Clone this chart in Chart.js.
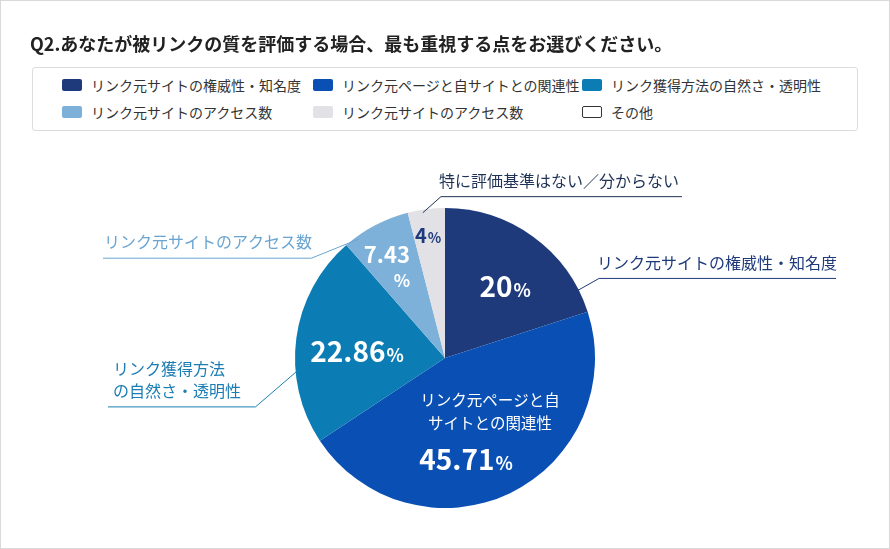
<!DOCTYPE html>
<html lang="ja">
<head>
<meta charset="utf-8">
<script src="https://cdn.jsdelivr.net/npm/chart.js@4"></script>
<style>
  html, body { margin: 0; padding: 0; background: #fff; }
  body { width: 890px; height: 549px; position: relative; overflow: hidden;
         font-family: "Noto Sans CJK JP", "Noto Sans", sans-serif; }
  #frame { position: absolute; left: 0; top: 0; width: 888px; height: 547px; border: 1px solid #d9d9d9; }
  #title { position: absolute; left: 30px; top: 30px; font-size: 18px; font-weight: bold; color: #222; white-space: nowrap; }
  #legend { position: absolute; left: 32px; top: 67px; width: 824px; height: 62px;
            border: 1px solid #dcdcdc; border-radius: 3px; background: #fff; }
  .item { position: absolute; font-size: 14px; color: #333; white-space: nowrap; line-height: 16px; }
  .sw { position: absolute; left: -29px; top: 2px; width: 20px; height: 12px; border-radius: 2px; box-sizing: border-box; }
  #chart { position: absolute; left: 0; top: 0; }
</style>
</head>
<body>
<div id="frame"></div>
<canvas id="chart" width="890" height="549"></canvas>
<div id="title">Q2.あなたが被リンクの質を評価する場合、最も重視する点をお選びください。</div>
<div id="legend"></div>
<script>
// Data
const legendLabels = [
    'リンク元サイトの権威性・知名度',
    'リンク元ページと自サイトとの関連性',
    'リンク獲得方法の自然さ・透明性',
    'リンク元サイトのアクセス数',
    'リンク元サイトのアクセス数',
    'その他',
];
const shares = [20, 45.71, 22.86, 7.43, 4, 0];
const valueLabels = ['20', '45.71', '22.86', '7.43', '4', ''];
const calloutLabels = [
    ['リンク元サイトの権威性・知名度'],
    [],
    ['リンク獲得方法', 'の自然さ・透明性'],
    ['リンク元サイトのアクセス数'],
    ['特に評価基準はない／分からない'],
    [],
];
const innerLabels = [[], ['リンク元ページと自', 'サイトとの関連性'], [], [], [], []];

// Style
const colors = ['#1f3a7b', '#0a50b4', '#0b7cb4', '#7db1d9', '#e1e1e6', '#ffffff'];
const font = '"Noto Sans CJK JP", "Noto Sans", sans-serif';

// Build legend
const legendEl = document.getElementById('legend');
const colX = [58, 309, 578];
const rowY = [9, 36];
legendLabels.forEach((label, i) => {
    const item = document.createElement('div');
    item.className = 'item';
    item.style.left = colX[i % 3] + 'px';
    item.style.top = rowY[Math.floor(i / 3)] + 'px';
    const sw = document.createElement('span');
    sw.className = 'sw';
    sw.style.background = colors[i];
    if (i === 5) sw.style.border = '1.5px solid #333';
    item.appendChild(sw);
    item.appendChild(document.createTextNode(label));
    legendEl.appendChild(item);
});

// Where labels go, relative to each slice (fraction of angle, fraction of radius)
const valuePlace = [
    { frac: 0.56, r: 0.62, size: 28, pct: 18, color: '#fff' },
    { frac: 0.445, r: 0.527, size: 28, pct: 18, color: '#fff', dx: -24, dy: 37 },
    { frac: 0.454, r: 0.588, size: 28, pct: 18, color: '#fff' },
    { frac: 0.44, r: 0.79, size: 22, pct: 17, color: '#fff', stack: true },
    { frac: 0.45, r: 0.82, size: 20, pct: 14, color: '#1f3a7b' },
    null,
];
const callouts = [
    { frac: 0.876, ex: 23, ey: -13, endX: 836, color: '#1f3a7b', lineColor: '#1f3a7b' },
    null,
    { frac: 0.35, ex: -43, ey: 37, endX: 108, color: '#1b7db3', lineColor: '#1b7db3' },
    { frac: 0.19, ex: -47, ey: 19, endX: 103, color: '#6aa5d2', lineColor: '#6aa5d2' },
    { frac: 0.40, ex: 18, ey: -16, endX: 682, color: '#1f3356', lineColor: '#1f3356' },
    null,
];

function drawValue(ctx, x, y, num, p) {
    ctx.save();
    ctx.fillStyle = p.color;
    ctx.textBaseline = 'alphabetic';
    ctx.textAlign = 'left';
    ctx.font = 'bold ' + p.size + 'px ' + font;
    const w1 = ctx.measureText(num).width;
    ctx.font = 'bold ' + p.pct + 'px ' + font;
    const w2 = ctx.measureText('%').width;
    const base = y + p.size * 0.36;
    if (p.stack) {
        ctx.font = 'bold ' + p.size + 'px ' + font;
        ctx.fillText(num, x - w1 / 2, base);
        ctx.font = 'bold ' + p.pct + 'px ' + font;
        ctx.fillText('%', x + 15 - w2 / 2, base + 24);
    } else {
        const left = x - (w1 + w2 + 1) / 2;
        ctx.font = 'bold ' + p.size + 'px ' + font;
        ctx.fillText(num, left, base);
        ctx.font = 'bold ' + p.pct + 'px ' + font;
        ctx.fillText('%', left + w1 + 1, base);
    }
    ctx.restore();
}

const labelPlugin = {
    id: 'pieLabels',
    afterDatasetsDraw(chart) {
        const ctx = chart.ctx;
        const arcs = chart.getDatasetMeta(0).data;
        arcs.forEach((arc, i) => {
            const { x, y, startAngle, endAngle, outerRadius } = arc.getProps(['x', 'y', 'startAngle', 'endAngle', 'outerRadius'], true);
            const p = valuePlace[i];
            if (p) {
                const a = startAngle + p.frac * (endAngle - startAngle);
                const lx = x + Math.cos(a) * outerRadius * p.r;
                const ly = y + Math.sin(a) * outerRadius * p.r;
                if (innerLabels[i].length) {
                    ctx.save();
                    ctx.fillStyle = '#fff';
                    ctx.font = '15.5px ' + font;
                    ctx.textAlign = 'center';
                    ctx.textBaseline = 'middle';
                    ctx.fillText(innerLabels[i][0], lx, ly - 23);
                    ctx.fillText(innerLabels[i][1], lx, ly);
                    ctx.restore();
                }
                drawValue(ctx, lx + (p.dx || 0), ly + (p.dy || 0), valueLabels[i], p);
            }
            const c = callouts[i];
            if (c) {
                const a = startAngle + c.frac * (endAngle - startAngle);
                const sx = x + Math.cos(a) * (outerRadius - 3);
                const sy = y + Math.sin(a) * (outerRadius - 3);
                const ex = sx + c.ex;
                const ey = sy + c.ey;
                ctx.save();
                ctx.strokeStyle = c.lineColor;
                ctx.lineWidth = 1;
                ctx.beginPath();
                ctx.moveTo(sx, sy);
                ctx.lineTo(ex, ey);
                ctx.lineTo(c.endX, ey);
                ctx.stroke();
                ctx.fillStyle = c.color;
                ctx.font = '16px ' + font;
                ctx.textBaseline = 'middle';
                ctx.textAlign = 'left';
                const lines = calloutLabels[i];
                const tx = Math.min(ex, c.endX) + (c.endX < ex ? 1 : -2);
                lines.forEach((t, k) => {
                    ctx.fillText(t, tx + (lines.length > 1 ? 4 : 0), ey - 16 - (lines.length - 1 - k) * 22);
                });
                ctx.restore();
            }
        });
    },
};

new Chart(document.getElementById('chart'), {
    type: 'pie',
    data: {
        labels: legendLabels,
        datasets: [{
            data: shares,
            backgroundColor: colors,
            borderWidth: 0,
        }],
    },
    options: {
        responsive: false,
        animation: false,
        layout: { padding: { left: 295, right: 295, top: 208, bottom: 41 } },
        plugins: {
            legend: { display: false },
            tooltip: { enabled: false },
        },
    },
    plugins: [labelPlugin],
});
</script>
</body>
</html>
